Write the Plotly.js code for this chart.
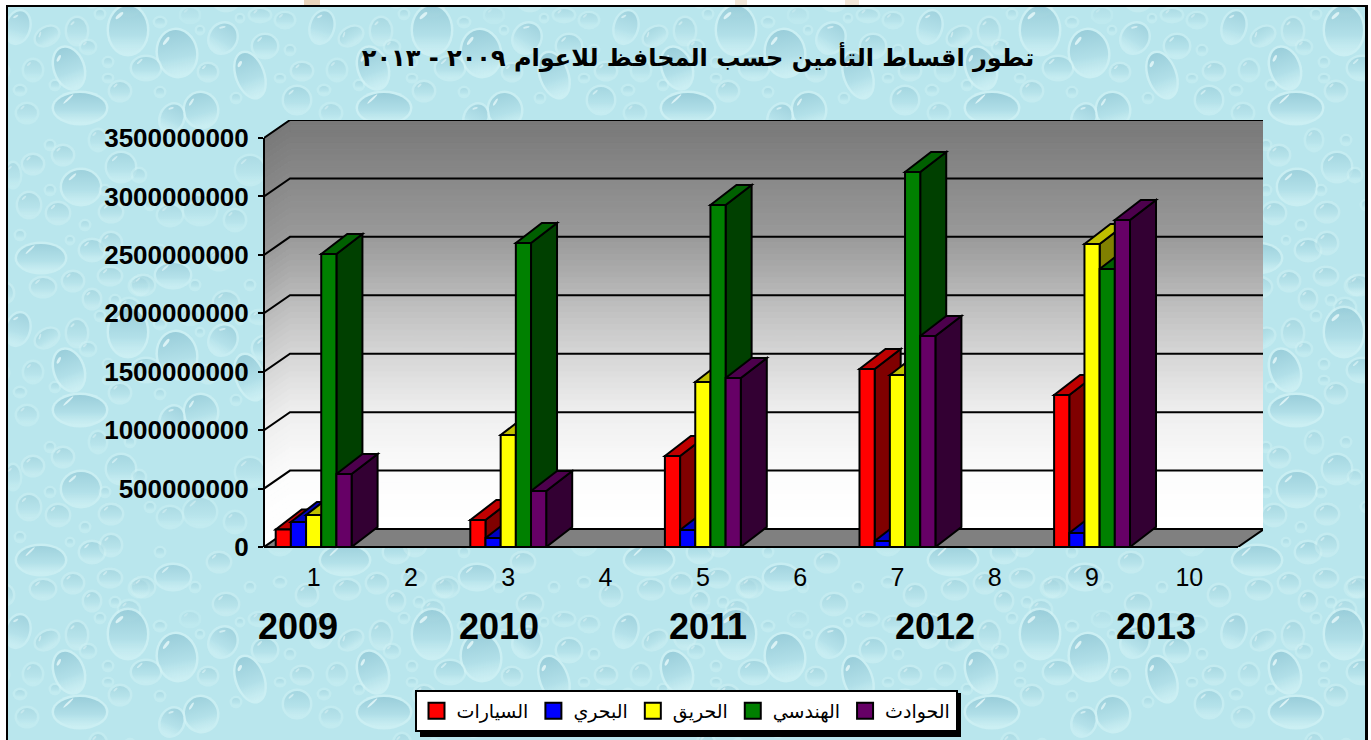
<!DOCTYPE html>
<html><head><meta charset="utf-8">
<script src="https://cdn.plot.ly/plotly-3.0.1.min.js"></script>
<style>
html,body{margin:0;padding:0;background:#fff;overflow:hidden;width:1371px;height:740px}
#frame{position:absolute;left:6px;top:5px;width:1357px;height:800px;border:2px solid #000;border-right-width:3px;background-repeat:repeat}
#chart{position:absolute;left:0;top:0;width:1371px;height:740px}
.blot{position:absolute;top:0;height:5px;background:#e9d5bc}
</style></head><body>
<div class="blot" style="left:304px;width:16px"></div>
<div class="blot" style="left:735px;width:12px;background:#f3e7d8"></div>
<div class="blot" style="left:845px;width:14px;background:#f3e7d8"></div>
<div id="frame"></div>
<div id="chart"></div>
<script>
// ---------- chart data ----------
var categories = [1,2,3,4,5,6,7,8,9,10];
var yearLabels = ['2009','2010','2011','2012','2013'];
var seriesNames = ['السيارات','البحري','الحريق','الهندسي','الحوادث'];
var cars        = [ 150e6,null, 231e6,null, 779e6,null,1523e6,null,1301e6,null];
var marine      = [ 214e6,null,  77e6,null, 145e6,null,  51e6,null, 120e6,null];
var fire        = [ 274e6,null, 958e6,null,1412e6,null,1472e6,null,2593e6,null];
var engineering = [2507e6,null,2601e6,null,2927e6,null,3209e6,null,2379e6,null];
var accidents   = [ 625e6,null, 479e6,null,1446e6,null,1806e6,null,2798e6,null];
var yTicks = [0,500e6,1000e6,1500e6,2000e6,2500e6,3000e6,3500e6];
var titleText = 'تطور اقساط التأمين حسب المحافظ للاعوام ٢٠٠٩ - ٢٠١٣';

var faceColors = ['#ff0000','#0000ff','#ffff00','#008000','#660066'];
var sideColors = ['#800000','#000080','#808000','#004000','#330033'];
var topColors  = ['#c00000','#0000c0','#c0c000','#006000','#4d004d'];
var allSeries = [cars,marine,fire,engineering,accidents];

// ---------- background texture (decorative tile) ----------
var drops = [[128,30,19,24,0,1],[177,53,19,23,-10,1],[69,68,14,21,-20,1],[80,108,26,15,0,1],[250,75,13,23,-20,1],
[223,38,13,15,30,.8],[265,46,12,11,0,.7],[146,68,14,11,0,.7],[120,91,10,9,0,.6],[201,110,16,17,-15,.9],[172,118,11,14,25,.8],
[208,72,9,8,0,.6],[297,100,13,13,0,.7],[302,71,10,8,0,.6],[77,31,10,13,0,.6],[47,36,12,8,-30,.6],[18,27,11,16,15,.8],
[33,70,9,10,0,.5],[285,20,9,7,0,.5],[260,15,10,6,0,.5],[88,47,7,6,0,.5],[27,113,10,9,0,.5],[190,15,9,7,0,.3],
[81,187,19,17,0,.9],[29,205,11,12,0,.6],[58,213,11,10,0,.6],[33,164,10,9,0,.6],[63,155,10,9,0,.6],[41,258,24,14,0,.9],
[73,281,10,9,0,.6],[43,287,12,9,0,.6],[92,250,12,10,0,.7],[92,299,8,9,0,.6],[13,175,7,12,0,.5],[98,140,8,10,0,.5],
[121,167,14,14,0,.7],[111,212,11,9,0,.6],[111,243,10,10,0,.6],[110,276,11,8,0,.6],[139,286,9,8,0,.5],[139,175,6,6,0,.5],
[173,275,17,12,0,.8],[143,285,11,9,0,.6],[219,260,11,9,0,.6],[226,302,12,10,0,.6],[129,308,10,9,0,.5],[3,293,10,10,0,.6],
[200,210,16,14,0,.5],[250,170,14,14,0,.5],[280,240,12,12,0,.5],[170,215,12,10,0,.5],[235,220,10,10,0,.5],
[108,62,4,4,0,.5],[108,78,4,3,0,.5],[160,92,4,4,0,.5],[100,14,4,4,0,.5],[55,85,4,4,0,.5],[20,90,5,4,0,.5],[236,98,4,4,0,.5],
[280,78,4,3,0,.5],[160,22,5,4,0,.5],[200,30,3,3,0,.5],[290,50,4,4,0,.5],[240,18,3,3,0,.5],[50,145,4,4,0,.5],[50,190,4,4,0,.5],
[85,225,4,4,0,.5],[20,235,4,4,0,.5],[70,240,3,3,0,.5],[105,190,4,4,0,.5],[130,140,4,4,0,.5],[150,205,4,4,0,.5],[160,250,4,4,0,.5],
[195,285,4,4,0,.5],[250,285,4,4,0,.5],[280,280,5,4,0,.5],[115,300,4,4,0,.5]];
(function(){
  var W=304,H=302,c=document.createElement('canvas');c.width=W;c.height=H;var g=c.getContext('2d');
  g.fillStyle='#b9e6ed';g.fillRect(0,0,W,H);
  g.filter='blur(0.7px)';
  function drop(d,ox,oy){
    var x=d[0]-7+ox,y=d[1]-7+oy,rx=d[2],ry=d[3],a=d[4]*Math.PI/180,s=d[5]*.72;
    g.save();g.translate(x,y);g.rotate(a);
    g.beginPath();g.ellipse(0,0,rx+2.5,ry+2.5,0,0,Math.PI*2);g.fillStyle='rgba(218,246,247,'+(.75*s)+')';g.fill();
    g.beginPath();g.ellipse(0,0,rx,ry,0,0,Math.PI*2);
    var gr=g.createLinearGradient(0,-ry,0,ry);
    gr.addColorStop(0,'rgba(118,182,200,'+(.8*s)+')');
    gr.addColorStop(.6,'rgba(158,212,224,'+(.8*s)+')');
    gr.addColorStop(1,'rgba(205,240,244,'+(.6*s)+')');
    g.fillStyle=gr;g.fill();
    if(rx>6){
      g.translate(-rx*.45,-ry*.6);g.rotate(-.75);
      g.beginPath();g.ellipse(0,0,Math.max(2.5,rx*.26),Math.max(1,ry*.07),0,0,Math.PI*2);
      g.fillStyle='rgba(240,253,253,'+s+')';g.fill();
    }
    g.restore();
  }
  [-W,0,W].forEach(function(ox){[-H,0,H].forEach(function(oy){drops.forEach(function(d){drop(d,ox,oy);});});});
  var f=document.getElementById('frame');
  f.style.backgroundImage='url('+c.toDataURL()+')';
  f.style.backgroundPosition='-1px 0px';
})();

// ---------- scales ----------
var plotL=264, plotR=1263, plotT=120, plotB=547;
var unitX=97.3;                 // pixels per category
var unitY=409/3500e6;           // pixels per value
var xMin=0.5-1/unitX, xEnd=10.5, xMax=xMin+(plotR-plotL)/unitX;
var yMax=(plotB-plotT)/unitY, vMax=3500e6;
var wallDx=26/unitX, wallDy=18/unitY, barDx=26/unitX, barDy=20/unitY;
var groupWidth=0.78, barW=groupWidth/allSeries.length;

function poly(pts){return 'M'+pts.map(function(p){return p[0]+','+p[1];}).join(' L')+' Z';}
function hex(v){v=Math.round(v);return 'rgb('+v+','+v+','+v+')';}
var stops=[[0,120],[.29,154],[.5,200],[.71,238],[.88,253],[1,255]];
function wallGray(t){ // t=0 at top, 1 at floor
  for(var i=1;i<stops.length;i++){ if(t<=stops[i][0]){var a=stops[i-1],b=stops[i];return a[1]+(b[1]-a[1])*(t-a[0])/(b[0]-a[0]);} }
  return 255;
}
var shapes=[];
// walls, in gradient bands
var N=70;
for(var i=0;i<N;i++){
  var v1=vMax*(N-i)/N, v0=vMax*(N-i-1)/N, col=hex(wallGray((i+.5)/N));
  var p=poly([[xMin+wallDx,v0+wallDy],[xEnd+wallDx,v0+wallDy],[xEnd+wallDx,v1+wallDy],[xMin+wallDx,v1+wallDy]])+' '+
        poly([[xMin,v0],[xMin+wallDx,v0+wallDy],[xMin+wallDx,v1+wallDy],[xMin,v1]]);
  shapes.push({type:'path',xref:'x',yref:'y',layer:'below',path:p,fillcolor:col,line:{color:col,width:1}});
}
// floor
shapes.push({type:'path',xref:'x',yref:'y',layer:'below',path:poly([[xMin,0],[xEnd,0],[xEnd+wallDx,wallDy],[xMin+wallDx,wallDy]]),fillcolor:'#808080',line:{color:'#000',width:2}});
// gridlines on side wall and back wall
yTicks.forEach(function(v){
  if(v===0) return;
  shapes.push({type:'path',xref:'x',yref:'y',layer:'below',path:'M'+xMin+','+v+' L'+(xMin+wallDx)+','+(v+wallDy)+' L'+(xEnd+wallDx)+','+(v+wallDy),line:{color:'#000',width:2}});
});
// bar depth faces, series by series
allSeries.forEach(function(vals,k){
  categories.forEach(function(c,j){
    var v=vals[j]; if(v===null) return;
    var L=c-groupWidth/2+k*barW, R=L+barW;
    shapes.push({type:'path',xref:'x',yref:'y',layer:'below',path:poly([[R,0],[R+barDx,barDy],[R+barDx,v+barDy],[R,v]]),fillcolor:sideColors[k],line:{color:'#000',width:2}});
    shapes.push({type:'path',xref:'x',yref:'y',layer:'below',path:poly([[L,v],[L+barDx,v+barDy],[R+barDx,v+barDy],[R,v]]),fillcolor:topColors[k],line:{color:'#000',width:2}});
  });
});
// y axis line and x axis line
shapes.push({type:'line',xref:'paper',yref:'y',layer:'above',x0:0,x1:0,y0:0,y1:vMax,line:{color:'#000',width:2}});
shapes.push({type:'line',xref:'x',yref:'paper',layer:'above',x0:xMin-5/unitX,x1:xEnd,y0:0,y1:0,line:{color:'#000',width:2}});
// legend drop shadow
shapes.push({type:'rect',xref:'paper',yref:'paper',layer:'above',
  x0:(420-plotL)/(plotR-plotL),x1:(961-plotL)/(plotR-plotL),y0:(plotB-737)/(plotB-plotT),y1:(plotB-693)/(plotB-plotT),fillcolor:'#000',line:{width:0}});

var traces=allSeries.map(function(vals,k){
  return {type:'bar',name:seriesNames[k],x:categories,y:vals,cliponaxis:false,
    marker:{color:faceColors[k],line:{color:'#000',width:2}},hoverinfo:'x+y+name'};
});

var yearCenters=[298,498.5,707.5,935,1155.5];
var annotations=yearLabels.map(function(t,i){
  return {xref:'x',yref:'paper',x:xMin+(yearCenters[i]-plotL)/unitX,y:(plotB-626)/(plotB-plotT),xanchor:'center',yanchor:'middle',showarrow:false,
    font:{family:'"Liberation Sans",Arial,sans-serif',size:36,color:'#000'},text:'<b>'+t+'</b>'};
});

var layout={
  width:1371,height:740,
  paper_bgcolor:'rgba(0,0,0,0)',plot_bgcolor:'rgba(0,0,0,0)',
  margin:{l:plotL,r:1371-plotR,t:plotT,b:740-plotB,pad:0,autoexpand:false},
  title:{text:'<b>'+titleText+'</b>',xref:'paper',yref:'container',x:(698-plotL)/(plotR-plotL),y:1-58/740,xanchor:'center',yanchor:'middle',
    font:{family:'"DejaVu Sans",sans-serif',size:24,color:'#000'}},
  barmode:'group',bargap:1-groupWidth,bargroupgap:0,
  xaxis:{range:[xMin,xMax],tickmode:'array',tickvals:categories,ticktext:categories.map(String),showgrid:false,zeroline:false,showline:false,ticks:'',
    tickfont:{family:'"Liberation Sans",Arial,sans-serif',size:25,color:'#000'},ticklabelstandoff:13,fixedrange:true},
  yaxis:{range:[0,yMax],tickmode:'array',tickvals:yTicks,ticktext:yTicks.map(function(v){return '<b>'+v+'</b>';}),showgrid:false,zeroline:false,showline:false,
    ticks:'outside',ticklen:5,tickwidth:2,tickcolor:'#000',
    tickfont:{family:'"Liberation Sans",Arial,sans-serif',size:26,color:'#000'},ticklabelstandoff:4,fixedrange:true},
  legend:{orientation:'h',x:(686-plotL)/(plotR-plotL),y:(plotB-711)/(plotB-plotT),xanchor:'center',yanchor:'middle',
    bgcolor:'#fff',bordercolor:'#000',borderwidth:2,traceorder:'normal',
    font:{family:'"DejaVu Sans",sans-serif',size:19,color:'#000'}},
  shapes:shapes,annotations:annotations,showlegend:true
};
Plotly.newPlot('chart',traces,layout,{displayModeBar:false,staticPlot:true}).then(function(){
  // legend swatches are drawn larger in the reference
  document.querySelectorAll('#chart .legendpoints path').forEach(function(p){p.setAttribute('d','M8,8H-8V-8H8Z');});
});
</script></body></html>
